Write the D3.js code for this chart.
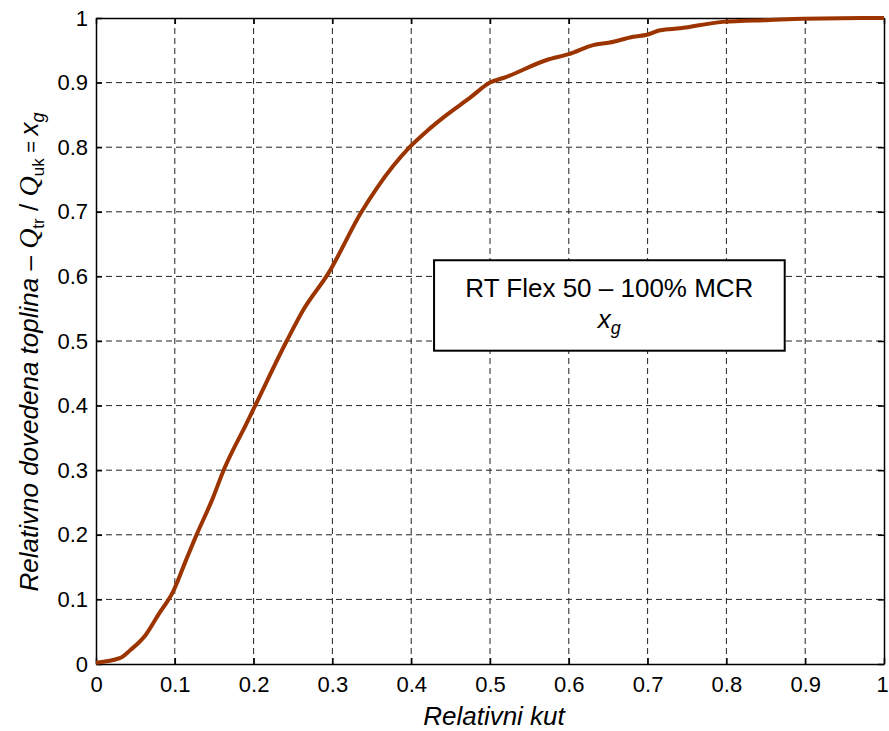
<!DOCTYPE html>
<html>
<head>
<meta charset="utf-8">
<script src="https://cdn.jsdelivr.net/npm/d3@7"></script>
<style>
  body { margin: 0; background: #fff; }
  svg { font-family: "Liberation Sans", Arial, sans-serif; }
  .grid line { stroke: #222; stroke-dasharray: 6,4; stroke-width: 1; }
  .axis text { font-size: 22px; fill: #000; }
  .axis path, .axis line { stroke: #000; stroke-width: 1.5; }
</style>
</head>
<body>
<svg width="889" height="731"></svg>
<script>
// relative angle vs relative heat released
var kut = [0, 0.03, 0.044, 0.063, 0.08, 0.097, 0.114, 0.128, 0.148, 0.162, 0.173, 0.186,
   0.202, 0.242, 0.263, 0.295, 0.337, 0.356, 0.398, 0.42, 0.445, 0.474, 0.5, 0.521,
   0.572, 0.6, 0.631, 0.652, 0.682, 0.699, 0.716, 0.741, 0.795, 0.855, 0.897, 1];
var xg = [0.002, 0.009, 0.022, 0.045, 0.078, 0.11, 0.16, 0.201, 0.256, 0.3, 0.329, 0.36,
   0.4, 0.5, 0.548, 0.605, 0.7, 0.736, 0.8, 0.825, 0.85, 0.876, 0.9, 0.909,
   0.935, 0.944, 0.958, 0.962, 0.971, 0.974, 0.981, 0.984, 0.994, 0.997, 0.999, 1];
var ticks = d3.range(0, 1.01, 0.1);

var svg = d3.select('svg');
var margin = { left: 96, top: 18, right: 5, bottom: 67 };
var w = 889 - margin.left - margin.right,
   h = 731 - margin.top - margin.bottom;

var x = d3.scaleLinear().domain([0, 1]).range([0, w]);
var y = d3.scaleLinear().domain([0, 1]).range([h, 0]);

var g = svg.append('g')
   .attr('transform', 'translate(' + margin.left + ',' + margin.top + ')');

var fmt = function (d) { return d === 0 ? '0' : d === 1 ? '1' : d3.format('.1f')(d); };

// grid
g.append('g').attr('class', 'grid')
   .selectAll('line.v').data(ticks.slice(1, -1)).enter().append('line')
   .attr('x1', function (d) { return x(d); }).attr('x2', function (d) { return x(d); })
   .attr('y1', 0).attr('y2', h);
g.append('g').attr('class', 'grid')
   .selectAll('line.h').data(ticks.slice(1, -1)).enter().append('line')
   .attr('y1', function (d) { return y(d); }).attr('y2', function (d) { return y(d); })
   .attr('x1', 0).attr('x2', w);

// axes
var xAxis = g.append('g').attr('class', 'axis')
   .attr('transform', 'translate(0,' + h + ')')
   .call(d3.axisBottom(x).tickValues(ticks).tickFormat(fmt).tickSizeInner(-6).tickSizeOuter(0).tickPadding(12));
// keep the last label inside the window
xAxis.selectAll('.tick text').filter(function (d) { return d === 1; }).attr('dx', -2);
g.append('g').attr('class', 'axis')
   .call(d3.axisLeft(y).tickValues(ticks).tickFormat(fmt).tickSizeInner(-6).tickSizeOuter(0).tickPadding(8));
g.append('g').attr('class', 'axis')
   .call(d3.axisTop(x).tickValues(ticks).tickFormat('').tickSizeInner(-6).tickSizeOuter(0));
g.append('g').attr('class', 'axis')
   .attr('transform', 'translate(' + w + ',0)')
   .call(d3.axisRight(y).tickValues(ticks).tickFormat('').tickSizeInner(-6).tickSizeOuter(0));

// curve
var line = d3.line()
   .x(function (d, i) { return x(kut[i]); })
   .y(function (d) { return y(d); })
   .curve(d3.curveMonotoneX);
g.append('path')
   .datum(xg)
   .attr('d', line)
   .attr('fill', 'none')
   .attr('stroke', '#9c3400')
   .attr('stroke-width', 4)
   .attr('stroke-linejoin', 'round');

// legend box
var bw = x(0.445) - x(0);
var lg = g.append('g').attr('transform', 'translate(' + x(0.429) + ',' + y(0.625) + ')');
lg.append('rect')
   .attr('width', bw)
   .attr('height', y(0) - y(0.14))
   .attr('fill', '#fff')
   .attr('stroke', '#000')
   .attr('stroke-width', 2);
lg.append('text')
   .attr('x', bw / 2).attr('y', 37)
   .attr('text-anchor', 'middle').attr('font-size', 26)
   .text('RT Flex 50 – 100% MCR');
var lt = lg.append('text')
   .attr('x', bw / 2).attr('y', 68)
   .attr('text-anchor', 'middle').attr('font-size', 26).attr('font-style', 'italic');
lt.append('tspan').text('x');
lt.append('tspan').attr('font-size', 18).attr('dy', 6).text('g');

// axis titles
svg.append('text')
   .attr('x', margin.left + w / 2 + 4).attr('y', 725)
   .attr('text-anchor', 'middle').attr('font-size', 26).attr('font-style', 'italic')
   .text('Relativni kut');

var yt = svg.append('text')
   .attr('transform', 'translate(38,352) rotate(-90)')
   .attr('text-anchor', 'middle').attr('font-size', 26);
yt.append('tspan').attr('font-style', 'italic').text('Relativno dovedena toplina');
yt.append('tspan').text(' – ');
yt.append('tspan').attr('font-style', 'italic').attr('font-family', 'Liberation Serif, serif').attr('font-size', 28).text('Q');
yt.append('tspan').attr('font-size', 17).attr('dy', 6).text('tr');
yt.append('tspan').attr('dy', -6).text(' / ');
yt.append('tspan').attr('font-style', 'italic').attr('font-family', 'Liberation Serif, serif').attr('font-size', 28).text('Q');
yt.append('tspan').attr('font-size', 17).attr('dy', 6).text('uk');
yt.append('tspan').attr('dy', -6).attr('font-size', 20).text(' = ');
yt.append('tspan').attr('font-style', 'italic').text('x');
yt.append('tspan').attr('font-style', 'italic').attr('font-size', 18).attr('dy', 6).text('g');
</script>
</body>
</html>
